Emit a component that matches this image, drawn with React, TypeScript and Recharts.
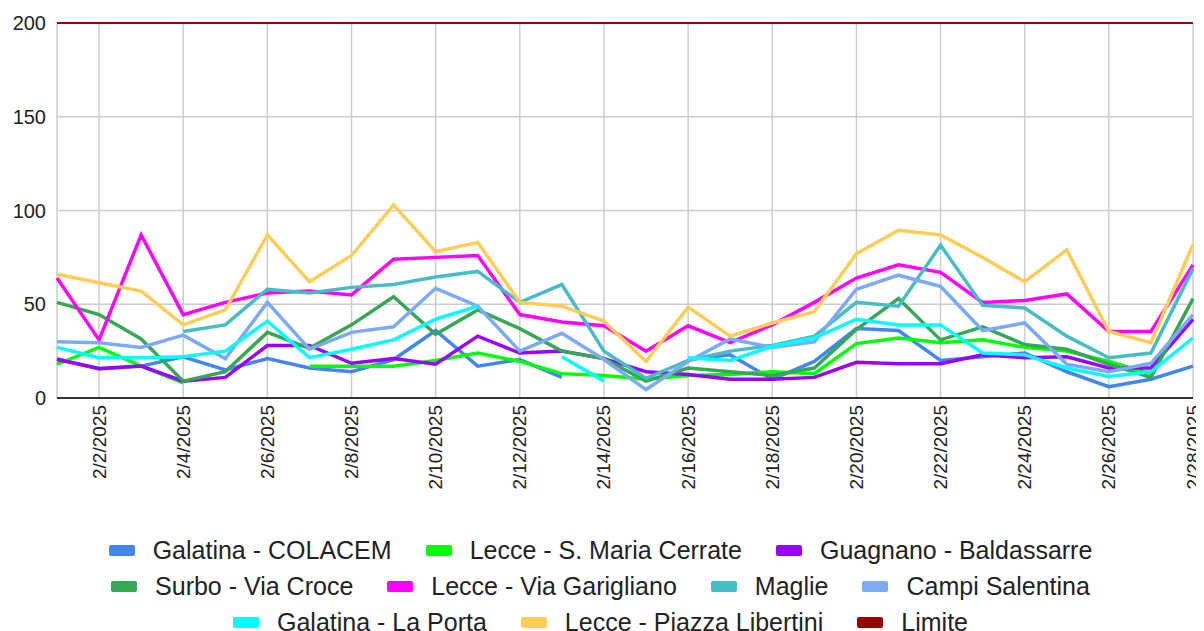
import React from 'react';
import { LineChart, Line, XAxis, YAxis, CartesianGrid, Legend } from 'recharts';

const dates = [
  '2/1/2025', '2/2/2025', '2/3/2025', '2/4/2025', '2/5/2025', '2/6/2025', '2/7/2025',
  '2/8/2025', '2/9/2025', '2/10/2025', '2/11/2025', '2/12/2025', '2/13/2025', '2/14/2025',
  '2/15/2025', '2/16/2025', '2/17/2025', '2/18/2025', '2/19/2025', '2/20/2025', '2/21/2025',
  '2/22/2025', '2/23/2025', '2/24/2025', '2/25/2025', '2/26/2025', '2/27/2025', '2/28/2025',
];
const tickDays = [2, 4, 6, 8, 10, 12, 14, 16, 18, 20, 22, 24, 26, 28];
const yTicks = [0, 50, 100, 150, 200];

const galatinaColacem = [21, 15.5, 17, 22, 15, 21, 16, 14, 20.5, 36, 17, 20.5, 11, null, null, 20.5, 23, 10, 19.5, 37, 36, 20, 22, 24, 14, 6, 10, 17];
const lecceSMariaCerrate = [18, 27, 17, 8, null, null, 17, 17, 17, 20, 24, 19.5, 13, 12, 10, 12, 12.5, 14, 13, 29, 32, 29.5, 31, 27, 25, 19.5, 13, null];
const guagnanoBaldassarre = [20.5, 15.7, 17, 9, 11, 28, 28, 18.5, 21, 18, 33, 24, 25, 21, 14, 12.5, 10, 10, 11, 19, 18.3, 18.3, 23, 21.5, 22, 16, 16, 42];
const surboViaCroce = [51, 44.5, 31.5, 9, 14, 35, 26.5, 39, 54, 34, 47, 37, 25, 21, 9, 16, 14, 12, 16, 36.5, 53, 31, 38, 28.5, 26, 18, 11, 53];
const lecceViaGarigliano = [64, 31, 87, 44.5, 51, 56, 57, 55, 74, 75, 76, 44.5, 40.5, 38.5, 25, 38.5, 29.5, 39, 51, 64, 71, 67, 51, 52, 55.5, 35.5, 35.5, 71];
const maglie = [null, null, null, 35.5, 39, 58, 56, 59, 60.5, 64.5, 67.5, 51, 60.5, 25, 10.5, 20, 25, 28, 33, 51, 49, 81.5, 49.5, 48, 33, 21.5, 24, 69];
const campiSalentina = [30, 29.5, 27, 33.5, 21, 51, 26, 35, 38, 58.5, 49, 25, 34.5, 20.5, 4.5, 19.5, 31.5, 27, 30, 58, 65.5, 59.5, 36, 40, 18, 14, 18.5, 44.5];
const galatinaLaPorta = [27, 21.5, 21.5, 22, 25, 41, 21.5, 26, 31, 42, 49, null, 22, 9, null, 21.5, 20, 27.5, 32, 42, 39, 39, 24, 23, 16, 11.5, 14, 32];
const leccePiazzaLibertini = [66, 61.5, 57, 39, 47, 87, 62, 76, 103, 78, 83, 51, 49, 41, 19.5, 48.5, 33, 40, 46, 77, 89.5, 87, 75, 62, 79, 35.5, 29.5, 82];
const limite = [200, 200, 200, 200, 200, 200, 200, 200, 200, 200, 200, 200, 200, 200, 200, 200, 200, 200, 200, 200, 200, 200, 200, 200, 200, 200, 200, 200];

const seriesDefs = [
  { key: 's1', name: 'Galatina - COLACEM', color: '#4285F4', width: 3.5, values: galatinaColacem },
  { key: 's2', name: 'Lecce - S. Maria Cerrate', color: '#00FF00', width: 3.5, values: lecceSMariaCerrate },
  { key: 's3', name: 'Guagnano - Baldassarre', color: '#9900FF', width: 3.5, values: guagnanoBaldassarre },
  { key: 's4', name: 'Surbo - Via Croce', color: '#34A853', width: 3.5, values: surboViaCroce },
  { key: 's5', name: 'Lecce - Via Garigliano', color: '#FF00FF', width: 3.5, values: lecceViaGarigliano },
  { key: 's6', name: 'Maglie', color: '#46BDC6', width: 3.5, values: maglie },
  { key: 's7', name: 'Campi Salentina', color: '#7BAAF7', width: 3.5, values: campiSalentina },
  { key: 's8', name: 'Galatina - La Porta', color: '#00FFFF', width: 3.5, values: galatinaLaPorta },
  { key: 's9', name: 'Lecce - Piazza Libertini', color: '#FFCC55', width: 3.5, values: leccePiazzaLibertini },
  { key: 's10', name: 'Limite', color: '#990000', width: 2, values: limite },
];

const legendRows = [
  ['Galatina - COLACEM', 'Lecce - S. Maria Cerrate', 'Guagnano - Baldassarre'],
  ['Surbo - Via Croce', 'Lecce - Via Garigliano', 'Maglie', 'Campi Salentina'],
  ['Galatina - La Porta', 'Lecce - Piazza Libertini', 'Limite'],
];

const data = dates.map((d, i) => {
  const row: any = { day: i + 1, date: d };
  seriesDefs.forEach((s) => {
    row[s.key] = s.values[i];
  });
  return row;
});

const FONT = '"Liberation Sans", Arial, sans-serif';

const XTick = (props: any) => {
  const { x, y, payload } = props;
  const label = dates[payload.value - 1];
  return (
    <text
      x={x}
      y={y}
      transform={`rotate(-90 ${x} ${y})`}
      textAnchor="end"
      dominantBaseline="central"
      fontSize={19}
      fontFamily={FONT}
      fill="#222"
    >
      {label}
    </text>
  );
};

const LegendContent = () => {
  const colorOf = (name: string) => seriesDefs.find((s) => s.name === name)?.color || '#000';
  return (
    <div style={{ height: 108, fontFamily: FONT, fontSize: 25, color: '#222' }}>
      {legendRows.map((row, ri) => (
        <div
          key={ri}
          style={{ height: 36, display: 'flex', justifyContent: 'center', alignItems: 'center' }}
        >
          {row.map((name, ii) => (
            <div
              key={name}
              style={{ display: 'flex', alignItems: 'center', marginLeft: ii === 0 ? 0 : 34 }}
            >
              <span
                style={{
                  display: 'inline-block',
                  width: 26,
                  height: 11,
                  borderRadius: 2,
                  background: colorOf(name),
                  marginRight: 18,
                }}
              />
              <span style={{ whiteSpace: 'nowrap', lineHeight: '28px' }}>{name}</span>
            </div>
          ))}
        </div>
      ))}
    </div>
  );
};

export default function App() {
  return (
    <LineChart
      width={1196}
      height={632}
      data={data}
      margin={{ top: 15, right: 11, left: 0, bottom: 0 }}
      style={{ fontFamily: FONT }}
    >
      <CartesianGrid stroke="#cccccc" strokeWidth={1.5} />
      <XAxis
        dataKey="day"
        type="number"
        domain={[1, 28]}
        ticks={tickDays}
        interval={0}
        tick={<XTick />}
        tickLine={false}
        tickSize={0}
        tickMargin={7}
        height={134}
        axisLine={{ stroke: '#333333', strokeWidth: 2 }}
      />
      <YAxis
        domain={[0, 200]}
        ticks={yTicks}
        width={49}
        axisLine={false}
        tickLine={false}
        tickSize={0}
        tickMargin={11}
        tick={{ fontSize: 20, fill: '#222', fontFamily: FONT }}
      />
      <Legend verticalAlign="bottom" height={108} content={<LegendContent />} />
      {seriesDefs.map((s) => (
        <Line
          key={s.key}
          type="linear"
          dataKey={s.key}
          name={s.name}
          stroke={s.color}
          strokeWidth={s.width}
          dot={false}
          activeDot={false}
          isAnimationActive={false}
        />
      ))}
    </LineChart>
  );
}
